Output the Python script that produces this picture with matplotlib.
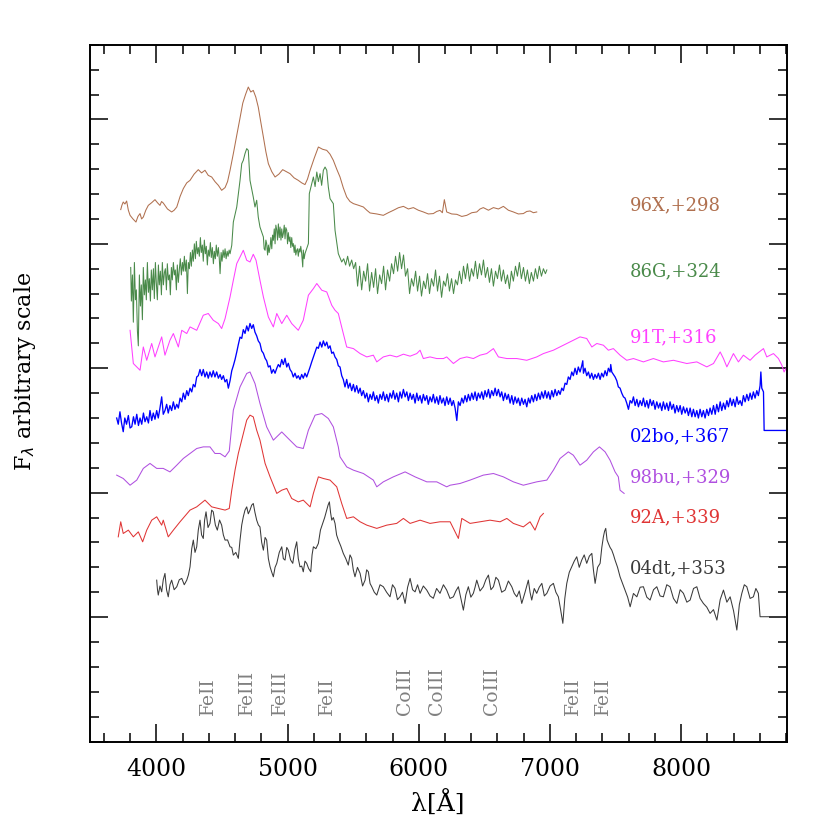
"""Late-time spectra of type Ia supernovae, stacked with arbitrary offsets."""

import matplotlib
matplotlib.use("Agg")
import matplotlib.pyplot as plt
from matplotlib.ticker import MultipleLocator, NullFormatter

# ---- 96X, +298 d -------------------------------------------------------------
wave_96x = [3729, 3738, 3748, 3761, 3774, 3787, 3800, 3822, 3845, 3860, 3876, 3888, 3901, 3920,
            3939, 3964, 3990, 4009, 4028, 4040, 4053, 4085, 4117, 4136, 4156, 4181, 4206, 4232,
            4257, 4288, 4320, 4345, 4371, 4396, 4422, 4447, 4473, 4498, 4524, 4543, 4562, 4588,
            4613, 4636, 4659, 4680, 4701, 4720, 4739, 4758, 4777, 4796, 4816, 4835, 4854, 4880,
            4905, 4934, 4963, 4991, 5019, 5050, 5082, 5108, 5133, 5152, 5172, 5204, 5235, 5267,
            5299, 5324, 5349, 5375, 5400, 5425, 5451, 5476, 5502, 5540, 5578, 5604, 5629, 5680,
            5730, 5768, 5806, 5845, 5883, 5921, 5959, 5997, 6035, 6073, 6111, 6137, 6162, 6180,
            6195, 6213, 6251, 6290, 6328, 6366, 6404, 6442, 6467, 6492, 6531, 6569, 6607, 6645,
            6683, 6721, 6759, 6797, 6823, 6848, 6874, 6899]
flux_96x = [4.275, 4.31, 4.336, 4.32, 4.344, 4.27, 4.229, 4.20, 4.175, 4.22, 4.243, 4.20, 4.215,
            4.27, 4.309, 4.33, 4.355, 4.33, 4.309, 4.34, 4.328, 4.28, 4.256, 4.27, 4.296, 4.38,
            4.444, 4.49, 4.510, 4.56, 4.596, 4.57, 4.591, 4.55, 4.537, 4.50, 4.470, 4.43, 4.452,
            4.50, 4.591, 4.73, 4.872, 5.00, 5.131, 5.20, 5.260, 5.22, 5.233, 5.18, 5.099, 4.98,
            4.858, 4.74, 4.644, 4.58, 4.537, 4.56, 4.596, 4.58, 4.564, 4.53, 4.510, 4.49, 4.476,
            4.52, 4.591, 4.69, 4.778, 4.76, 4.751, 4.72, 4.671, 4.60, 4.537, 4.45, 4.376, 4.34,
            4.323, 4.31, 4.296, 4.27, 4.248, 4.24, 4.229, 4.25, 4.269, 4.29, 4.301, 4.28, 4.291,
            4.27, 4.256, 4.24, 4.243, 4.26, 4.269, 4.25, 4.355, 4.256, 4.24, 4.237, 4.22, 4.229,
            4.25, 4.256, 4.28, 4.291, 4.27, 4.291, 4.28, 4.301, 4.27, 4.256, 4.24, 4.243, 4.26,
            4.264, 4.25, 4.256]

# ---- 86G, +324 d -------------------------------------------------------------
wave_86g = [3805, 3810, 3818, 3825, 3833, 3841, 3848, 3856, 3863, 3871, 3879, 3886, 3894, 3901,
            3909, 3917, 3924, 3932, 3940, 3947, 3955, 3962, 3970, 3978, 3985, 3993, 4000, 4008,
            4016, 4023, 4031, 4039, 4046, 4054, 4062, 4069, 4077, 4084, 4092, 4100, 4107, 4115,
            4122, 4130, 4138, 4145, 4153, 4160, 4168, 4176, 4183, 4191, 4199, 4206, 4214, 4221,
            4229, 4237, 4244, 4252, 4260, 4267, 4275, 4282, 4290, 4298, 4305, 4313, 4320, 4328,
            4336, 4343, 4351, 4358, 4366, 4374, 4381, 4389, 4396, 4404, 4412, 4419, 4427, 4435,
            4442, 4450, 4457, 4465, 4473, 4480, 4486, 4494, 4501, 4509, 4517, 4524, 4532, 4540,
            4547, 4555, 4562, 4570,
            4575, 4587, 4613, 4638, 4651, 4663, 4676, 4689, 4701, 4707, 4714, 4739, 4752, 4765,
            4777, 4790,
            4816, 4822, 4829, 4835, 4841, 4848, 4854, 4860, 4867, 4873, 4880, 4886, 4892, 4899,
            4905, 4911, 4918, 4924, 4930, 4937, 4943, 4950, 4956, 4962, 4968, 4975, 4981, 4987,
            4994, 5000, 5006, 5013, 5019, 5025, 5032, 5038, 5044, 5051, 5057, 5063, 5070, 5076,
            5082, 5089, 5095, 5101, 5108, 5116, 5120, 5127, 5133, 5159, 5166, 5197, 5210, 5223,
            5235, 5248, 5260, 5273, 5286, 5299, 5311, 5324, 5349, 5362, 5387, 5413,
            5428, 5443, 5458, 5473, 5489, 5504, 5519, 5534, 5549, 5565, 5580, 5595, 5610, 5625,
            5641, 5656, 5671, 5686, 5702, 5717, 5732, 5747, 5762, 5778, 5793, 5808, 5823, 5839,
            5854, 5869, 5884, 5899, 5915, 5930, 5945, 5960, 5976, 5991, 6006, 6021, 6037, 6052,
            6067, 6082, 6097, 6113, 6128, 6143, 6158, 6174, 6189, 6204, 6219, 6234, 6250, 6265,
            6280, 6295, 6310, 6326, 6341, 6356, 6371, 6387, 6402, 6417, 6432, 6447, 6463, 6478,
            6493, 6508, 6524, 6539, 6554, 6569, 6585, 6600, 6615, 6630, 6645, 6661, 6676, 6691,
            6706, 6721, 6737, 6752, 6767, 6782, 6798, 6813, 6828, 6843, 6858, 6874, 6889, 6904,
            6919, 6935, 6950, 6965, 6976]
flux_86g = [3.81, 3.54, 3.75, 3.37, 3.85, 3.55, 3.63, 3.30, 3.18, 3.75, 3.50, 3.67, 3.39, 3.81,
            3.59, 3.71, 3.55, 3.85, 3.61, 3.72, 3.54, 3.79, 3.63, 3.80, 3.56, 3.85, 3.69, 3.55,
            3.83, 3.67, 3.78, 3.59, 3.85, 3.67, 3.77, 3.80, 3.63, 3.84, 3.71, 3.75, 3.59, 3.81,
            3.71, 3.85, 3.75, 3.79, 3.63, 3.83, 3.69, 3.80, 3.88, 3.75, 3.85, 3.78, 3.90, 3.78,
            3.87, 3.60, 3.85, 3.80, 3.93, 3.82, 3.95, 3.86, 4.00, 3.88, 4.02, 3.92, 3.97, 3.90,
            4.05, 3.93, 3.99, 3.86, 4.03, 3.92, 3.98, 3.83, 3.95, 3.90, 4.01, 3.89, 3.97, 3.84,
            3.94, 3.88, 3.99, 3.90, 3.97, 3.88, 3.76, 3.93, 3.86, 3.95, 3.89, 3.96, 3.88, 3.94,
            3.90, 3.95, 3.92, 3.96,
            3.988, 4.175, 4.296, 4.510, 4.644, 4.671, 4.725, 4.765, 4.751, 4.644, 4.510, 4.376,
            4.296, 4.350, 4.215, 4.135,
            4.055, 3.96, 3.948, 4.03, 4.002, 3.91, 3.99, 3.93, 3.975, 4.05, 3.96, 4.07, 4.028,
            4.12, 4.00, 4.15, 4.109, 4.03, 4.16, 4.05, 4.135, 4.03, 4.12, 4.05, 4.082, 4.15, 4.04,
            4.13, 4.109, 4.00, 4.09, 4.02, 4.055, 3.97, 4.05, 3.98, 4.002, 3.93, 3.99, 3.91,
            3.948, 3.96, 3.90, 3.96, 3.934, 3.98, 3.92, 3.814, 3.95, 3.88, 3.921, 4.002, 4.403,
            4.537, 4.46, 4.577, 4.50, 4.564, 4.47, 4.591, 4.617, 4.591, 4.456, 4.363, 4.323,
            4.109, 3.921, 3.854,
            3.88, 3.83, 3.90, 3.82, 3.87, 3.80, 3.85, 3.66, 3.82, 3.63, 3.78, 3.70, 3.84, 3.62,
            3.77, 3.65, 3.80, 3.60, 3.75, 3.68, 3.82, 3.63, 3.79, 3.70, 3.84, 3.76, 3.90, 3.78,
            3.93, 3.80, 3.91, 3.74, 3.80, 3.60, 3.72, 3.66, 3.78, 3.62, 3.74, 3.58, 3.70, 3.64,
            3.76, 3.60, 3.72, 3.66, 3.79, 3.62, 3.74, 3.57, 3.70, 3.66, 3.76, 3.62, 3.72, 3.60,
            3.71, 3.67, 3.78, 3.68, 3.82, 3.72, 3.84, 3.70, 3.80, 3.74, 3.86, 3.72, 3.84, 3.75,
            3.87, 3.73, 3.81, 3.69, 3.80, 3.66, 3.78, 3.72, 3.83, 3.70, 3.79, 3.68, 3.75, 3.64,
            3.78, 3.70, 3.82, 3.74, 3.85, 3.72, 3.81, 3.70, 3.79, 3.68, 3.77, 3.70, 3.80, 3.72,
            3.82, 3.74, 3.80, 3.76, 3.79]

# ---- 91T, +316 d -------------------------------------------------------------
wave_91t = [3800, 3825, 3876, 3901, 3927, 3965, 3990, 4041, 4066, 4104, 4130, 4168, 4194, 4232,
            4257, 4308, 4358, 4396, 4434, 4473, 4498, 4524, 4562, 4587, 4613, 4638, 4663, 4689,
            4714, 4739, 4760, 4790, 4816, 4854, 4892, 4918, 4956, 4994, 5032, 5082, 5120, 5159,
            5197, 5223, 5261, 5299, 5337, 5362, 5387, 5425, 5451, 5502, 5553, 5604, 5654, 5680,
            5730, 5781, 5832, 5883, 5934, 5985, 6010, 6035, 6086, 6137, 6188, 6213, 6264, 6315,
            6366, 6416, 6467, 6518, 6569, 6607, 6671, 6747, 6823, 6899, 6950, 7026, 7102, 7178,
            7229, 7280, 7319, 7357, 7407, 7445, 7483, 7534, 7585, 7636, 7712, 7788, 7864, 7941,
            8043, 8119, 8195, 8246, 8297, 8322, 8348, 8398, 8436, 8474, 8525, 8563, 8627, 8652,
            8703, 8741, 8767, 8784, 8805]
flux_91t = [3.305, 3.038, 2.984, 3.171, 3.064, 3.199, 3.091, 3.252, 3.105, 3.225, 3.279, 3.171,
            3.305, 3.279, 3.332, 3.305, 3.426, 3.440, 3.386, 3.359, 3.319, 3.399, 3.573, 3.707,
            3.841, 3.894, 3.948, 3.868, 3.854, 3.916, 3.868, 3.707, 3.573, 3.412, 3.332, 3.440,
            3.359, 3.426, 3.359, 3.305, 3.386, 3.587, 3.640, 3.681, 3.627, 3.613, 3.506, 3.466,
            3.440, 3.279, 3.171, 3.158, 3.118, 3.091, 3.105, 3.051, 3.091, 3.105, 3.091, 3.113,
            3.097, 3.118, 3.145, 3.078, 3.091, 3.078, 3.078, 3.091, 3.038, 3.078, 3.091, 3.078,
            3.105, 3.118, 3.158, 3.091, 3.078, 3.078, 3.064, 3.091, 3.118, 3.145, 3.185, 3.225,
            3.252, 3.239, 3.171, 3.199, 3.185, 3.145, 3.158, 3.105, 3.064, 3.078, 3.051, 3.078,
            3.051, 3.064, 3.038, 3.051, 3.011, 3.038, 3.131, 3.078, 3.011, 3.118, 3.051, 3.105,
            3.064, 3.105, 3.158, 3.091, 3.118, 3.078, 3.024, 2.970, 3.011]

# ---- 02bo, +367 d ------------------------------------------------------------
wave_02bo = [3698, 3710, 3723, 3735, 3748, 3760, 3773, 3787, 3800, 3813, 3826, 3838, 3851, 3864,
             3876, 3889, 3902, 3914, 3927, 3940, 3952, 3965, 3977, 3990, 4003, 4015, 4028, 4041,
             4053, 4066, 4079, 4091, 4104, 4117, 4130, 4142, 4156, 4168, 4181, 4194, 4206, 4219,
             4232, 4244, 4257, 4270, 4282, 4295, 4308, 4320, 4333, 4346, 4358, 4371, 4384, 4396,
             4409, 4422, 4434, 4447, 4460, 4473, 4486, 4498, 4511, 4524, 4537, 4549, 4562, 4575,
             4587, 4600, 4613, 4625, 4638, 4651, 4663, 4676, 4689, 4701, 4714, 4727, 4739, 4752,
             4765, 4777, 4790, 4803, 4816, 4829, 4841, 4854, 4867, 4879, 4892, 4905, 4918, 4930,
             4943, 4956, 4968, 4981, 4994, 5006, 5019, 5032, 5044, 5057, 5070, 5082, 5095, 5108,
             5120, 5133, 5146, 5159, 5172, 5184, 5197, 5210, 5223, 5235, 5248, 5261, 5273, 5286,
             5299, 5311, 5324, 5337, 5349, 5362, 5375, 5387, 5400, 5413, 5425, 5438, 5451, 5463,
             5476, 5489, 5502, 5514, 5527, 5540, 5553, 5565, 5578, 5591, 5604, 5616, 5629, 5642,
             5654, 5667, 5680, 5692, 5705, 5718, 5730, 5743, 5756, 5769, 5781, 5794, 5806, 5819,
             5832, 5845, 5857, 5870, 5883, 5896, 5909, 5921, 5934, 5947, 5959, 5972, 5985, 5997,
             6010, 6023, 6035, 6048, 6061, 6073, 6086, 6099, 6111, 6124, 6137, 6150, 6162, 6175,
             6188, 6200, 6213, 6226, 6239, 6252, 6264, 6277, 6290, 6302, 6315, 6328, 6340, 6353,
             6366, 6378, 6391, 6404, 6416, 6429, 6442, 6454, 6467, 6480, 6492, 6505, 6518, 6531,
             6543, 6556, 6569, 6582, 6594, 6607, 6620, 6632, 6645, 6658, 6671, 6683, 6696, 6709,
             6721, 6734, 6747, 6759, 6772, 6785, 6798, 6810, 6823, 6836, 6848, 6861, 6874, 6886,
             6899, 6912, 6925, 6937, 6950, 6963, 6976, 6988, 7001, 7014, 7026, 7039, 7052, 7065,
             7077, 7090, 7102, 7115, 7128, 7140, 7153, 7166, 7178, 7191, 7204, 7216, 7229, 7242,
             7250, 7255, 7267, 7280, 7293, 7305, 7318, 7331, 7343, 7356, 7369, 7382, 7394, 7407,
             7420, 7433, 7445, 7458, 7463, 7471, 7483, 7496, 7509, 7521, 7534, 7547, 7560, 7572,
             7585, 7598, 7611, 7624, 7636, 7649, 7662, 7674, 7687, 7700, 7712, 7725, 7738, 7750,
             7763, 7776, 7788, 7801, 7814, 7827, 7839, 7852, 7864, 7877, 7890, 7903, 7915, 7928,
             7941, 7953, 7966, 7979, 7992, 8004, 8017, 8030, 8043, 8055, 8068, 8081, 8093, 8106,
             8119, 8131, 8144, 8157, 8169, 8182, 8195, 8208, 8220, 8233, 8246, 8259, 8271, 8284,
             8297, 8309, 8322, 8335, 8348, 8360, 8373, 8386, 8398, 8411, 8424, 8436, 8449, 8462,
             8474, 8487, 8500, 8513, 8525, 8538, 8550, 8563, 8576, 8588, 8601, 8607, 8614, 8627,
             8632, 8805]
flux_02bo = [2.60, 2.55, 2.65, 2.56, 2.49, 2.60, 2.55, 2.62, 2.52, 2.53, 2.61, 2.55, 2.63, 2.54,
             2.60, 2.55, 2.64, 2.57, 2.61, 2.56, 2.66, 2.58, 2.64, 2.59, 2.66, 2.60, 2.68, 2.77,
             2.63, 2.66, 2.71, 2.64, 2.70, 2.66, 2.73, 2.67, 2.71, 2.68, 2.76, 2.73, 2.80, 2.75,
             2.82, 2.78, 2.84, 2.81, 2.87, 2.85, 2.93, 2.94, 2.99, 2.94, 2.99, 2.93, 2.97, 2.92,
             2.97, 2.93, 2.98, 2.93, 2.97, 2.92, 2.95, 2.91, 2.94, 2.89, 2.91, 2.84, 2.90, 2.98,
             3.02, 3.07, 3.13, 3.19, 3.25, 3.24, 3.31, 3.28, 3.34, 3.30, 3.36, 3.32, 3.35, 3.29,
             3.26, 3.22, 3.20, 3.14, 3.12, 3.08, 3.06, 3.01, 3.02, 2.96, 2.99, 2.96, 3.00, 3.03,
             3.01, 3.07, 3.03, 3.08, 3.01, 3.04, 2.99, 2.97, 2.93, 2.96, 2.92, 2.94, 2.91, 2.95,
             2.92, 2.96, 2.93, 2.97, 3.01, 3.05, 3.09, 3.13, 3.17, 3.16, 3.21, 3.17, 3.22, 3.18,
             3.21, 3.16, 3.18, 3.12, 3.13, 3.09, 3.07, 3.02, 3.01, 2.94, 2.91, 2.85, 2.91, 2.84,
             2.88, 2.82, 2.87, 2.81, 2.86, 2.80, 2.84, 2.78, 2.82, 2.76, 2.80, 2.73, 2.79, 2.75,
             2.81, 2.74, 2.78, 2.72, 2.79, 2.75, 2.81, 2.74, 2.79, 2.73, 2.80, 2.76, 2.82, 2.75,
             2.80, 2.73, 2.81, 2.76, 2.83, 2.77, 2.81, 2.74, 2.80, 2.75, 2.79, 2.72, 2.80, 2.74,
             2.78, 2.72, 2.79, 2.74, 2.78, 2.71, 2.77, 2.73, 2.79, 2.72, 2.77, 2.71, 2.78, 2.72,
             2.76, 2.70, 2.77, 2.71, 2.76, 2.70, 2.74, 2.68, 2.58, 2.73, 2.70, 2.76, 2.72, 2.78,
             2.73, 2.79, 2.74, 2.80, 2.75, 2.81, 2.74, 2.80, 2.76, 2.81, 2.75, 2.82, 2.77, 2.83,
             2.76, 2.82, 2.78, 2.84, 2.78, 2.83, 2.77, 2.81, 2.74, 2.80, 2.75, 2.79, 2.72, 2.78,
             2.71, 2.77, 2.72, 2.76, 2.70, 2.76, 2.71, 2.75, 2.69, 2.76, 2.72, 2.78, 2.73, 2.79,
             2.74, 2.80, 2.75, 2.81, 2.76, 2.82, 2.76, 2.81, 2.75, 2.82, 2.77, 2.83, 2.78, 2.82,
             2.79, 2.84, 2.82, 2.88, 2.87, 2.93, 2.91, 2.97, 2.94, 3.00, 2.95, 3.01, 2.97, 3.02,
             3.06, 2.96, 3.00, 2.94, 2.97, 2.92, 2.96, 2.91, 2.95, 2.92, 2.96, 2.91, 2.96, 2.93,
             2.98, 2.94, 3.00, 2.97, 3.03, 2.97, 2.95, 2.93, 2.90, 2.85, 2.84, 2.80, 2.77, 2.76,
             2.72, 2.67, 2.74, 2.72, 2.77, 2.70, 2.75, 2.69, 2.74, 2.70, 2.76, 2.69, 2.74, 2.68,
             2.75, 2.70, 2.74, 2.67, 2.73, 2.68, 2.72, 2.66, 2.73, 2.67, 2.72, 2.66, 2.73, 2.67,
             2.71, 2.64, 2.70, 2.65, 2.70, 2.63, 2.69, 2.64, 2.68, 2.62, 2.68, 2.61, 2.67, 2.61,
             2.66, 2.60, 2.67, 2.61, 2.66, 2.60, 2.67, 2.62, 2.68, 2.63, 2.70, 2.63, 2.71, 2.65,
             2.73, 2.66, 2.72, 2.67, 2.74, 2.69, 2.76, 2.70, 2.75, 2.69, 2.77, 2.71, 2.74, 2.70,
             2.78, 2.73, 2.79, 2.74, 2.80, 2.75, 2.81, 2.76, 2.82, 2.78, 2.86, 2.97, 2.84, 2.81,
             2.50, 2.50]

# ---- 98bu, +329 d ------------------------------------------------------------
wave_98bu = [3698, 3748, 3800, 3851, 3901, 3952, 4003, 4053, 4104, 4156, 4206, 4257, 4308, 4358,
             4409, 4447, 4486, 4524, 4556, 4587, 4638, 4689, 4714, 4752, 4790, 4841, 4892, 4956,
             5006, 5070, 5120, 5159, 5210, 5261, 5311, 5349, 5387, 5400, 5451, 5502, 5578, 5654,
             5680, 5730, 5806, 5896, 5972, 6061, 6137, 6213, 6239, 6315, 6391, 6492, 6569, 6645,
             6721, 6797, 6899, 6976, 7026, 7077, 7140, 7178, 7229, 7280, 7331, 7377, 7420, 7458,
             7496, 7521, 7534, 7565]
flux_98bu = [2.141, 2.114, 2.060, 2.101, 2.195, 2.235, 2.195, 2.195, 2.167, 2.221, 2.275, 2.315,
             2.355, 2.368, 2.368, 2.315, 2.315, 2.288, 2.335, 2.663, 2.850, 2.958, 2.970, 2.877,
             2.717, 2.529, 2.422, 2.488, 2.435, 2.368, 2.355, 2.502, 2.623, 2.636, 2.596, 2.529,
             2.368, 2.288, 2.207, 2.181, 2.154, 2.101, 2.047, 2.087, 2.127, 2.167, 2.127, 2.087,
             2.087, 2.047, 2.060, 2.074, 2.101, 2.141, 2.154, 2.127, 2.087, 2.060, 2.087, 2.101,
             2.181, 2.275, 2.328, 2.301, 2.221, 2.261, 2.328, 2.368, 2.328, 2.261, 2.167, 2.127,
             2.020, 1.994]

# ---- 92A, +339 d -------------------------------------------------------------
wave_92a = [3710, 3729, 3748, 3787, 3825, 3863, 3896, 3927, 3965, 4003, 4041, 4053, 4091, 4130,
            4181, 4257, 4308, 4371, 4422, 4473, 4524, 4556, 4575, 4600, 4625, 4689, 4714, 4739,
            4765, 4790, 4829, 4867, 4918, 4956, 4994, 5032, 5082, 5120, 5172, 5197, 5235, 5273,
            5324, 5375, 5413, 5451, 5502, 5553, 5604, 5680, 5756, 5832, 5883, 5934, 6010, 6086,
            6162, 6239, 6302, 6328, 6391, 6467, 6543, 6620, 6671, 6721, 6797, 6848, 6886, 6925,
            6950]
flux_92a = [1.645, 1.766, 1.672, 1.699, 1.645, 1.685, 1.605, 1.699, 1.779, 1.806, 1.739, 1.779,
            1.645, 1.699, 1.766, 1.860, 1.886, 1.940, 1.886, 1.873, 1.860, 1.873, 2.020, 2.181,
            2.315, 2.583, 2.623, 2.609, 2.502, 2.422, 2.235, 2.127, 1.994, 2.020, 2.034, 1.953,
            1.926, 1.940, 1.886, 1.994, 2.127, 2.114, 2.101, 2.047, 1.913, 1.793, 1.806, 1.766,
            1.739, 1.713, 1.739, 1.753, 1.793, 1.753, 1.779, 1.753, 1.766, 1.766, 1.632, 1.793,
            1.753, 1.766, 1.779, 1.766, 1.793, 1.753, 1.725, 1.766, 1.699, 1.806, 1.833]

# ---- 04dt, +353 d ------------------------------------------------------------
wave_04dt = [4003, 4009, 4015, 4028, 4041, 4053, 4066, 4078, 4091, 4104, 4117, 4136, 4156, 4175,
             4194, 4213, 4232, 4245, 4257, 4270, 4282, 4295, 4308, 4320, 4333, 4345, 4358, 4368,
             4379, 4394, 4409, 4422, 4434, 4450, 4465, 4482, 4498, 4511, 4524, 4543, 4562, 4575,
             4587, 4606, 4625, 4632, 4638, 4651, 4663, 4676, 4689, 4701, 4714, 4727, 4739, 4752,
             4765, 4778, 4790, 4803, 4816, 4829, 4841, 4854, 4867, 4880, 4892, 4905, 4918, 4937,
             4956, 4968, 4981, 4994, 5006, 5023, 5040, 5055, 5070, 5082, 5095, 5108, 5120, 5133,
             5146, 5161, 5177, 5187, 5197, 5216, 5235, 5251, 5268, 5283, 5299, 5309, 5319, 5328,
             5337, 5349, 5362, 5374, 5387, 5406, 5425, 5444, 5463, 5476, 5489, 5501, 5514, 5533,
             5553, 5572, 5591, 5603, 5616, 5629, 5642, 5661, 5680, 5705, 5730, 5755, 5781, 5800,
             5819, 5838, 5857, 5876, 5896, 5915, 5934, 5953, 5972, 5991, 6010, 6035, 6061, 6086,
             6111, 6136, 6162, 6188, 6213, 6238, 6264, 6283, 6302, 6321, 6340, 6359, 6378, 6397,
             6416, 6429, 6442, 6467, 6492, 6511, 6531, 6550, 6569, 6588, 6607, 6632, 6658, 6683,
             6709, 6728, 6747, 6766, 6785, 6810, 6835, 6848, 6861, 6880, 6899, 6918, 6938, 6957,
             6976, 7001, 7026, 7045, 7064, 7081, 7098, 7113, 7128, 7147, 7166, 7185, 7204, 7223,
             7242, 7261, 7280, 7300, 7319, 7331, 7344, 7363, 7382, 7395, 7407, 7416, 7425, 7435,
             7445, 7458, 7471, 7484, 7496, 7515, 7534, 7553, 7572, 7592, 7611, 7636, 7662, 7687,
             7712, 7738, 7763, 7789, 7814, 7839, 7864, 7890, 7915, 7941, 7967, 7992, 8017, 8043,
             8068, 8094, 8119, 8144, 8169, 8195, 8220, 8246, 8272, 8297, 8322, 8348, 8373, 8399,
             8424, 8443, 8462, 8481, 8500, 8525, 8550, 8569, 8588, 8601, 8678]
flux_04dt = [1.297, 1.22, 1.177, 1.25, 1.203, 1.30, 1.351, 1.22, 1.163, 1.26, 1.297, 1.22,
             1.244, 1.30, 1.311, 1.26, 1.297, 1.34, 1.404, 1.55, 1.619, 1.52, 1.565, 1.70,
             1.779, 1.66, 1.632, 1.78, 1.846, 1.72, 1.753, 1.86, 1.846, 1.74, 1.699, 1.78,
             1.739, 1.66, 1.619, 1.62, 1.565, 1.56, 1.498, 1.52, 1.472, 1.55, 1.619, 1.74,
             1.806, 1.86, 1.886, 1.83, 1.860, 1.90, 1.913, 1.84, 1.779, 1.74, 1.725, 1.60,
             1.538, 1.64, 1.619, 1.47, 1.404, 1.36, 1.324, 1.40, 1.432, 1.52, 1.565, 1.47,
             1.458, 1.56, 1.538, 1.46, 1.432, 1.54, 1.605, 1.47, 1.404, 1.41, 1.364, 1.45,
             1.432, 1.39, 1.364, 1.50, 1.565, 1.55, 1.592, 1.70, 1.753, 1.80, 1.860, 1.90,
             1.926, 1.84, 1.779, 1.80, 1.753, 1.66, 1.619, 1.57, 1.512, 1.47, 1.418, 1.50,
             1.472, 1.38, 1.324, 1.40, 1.351, 1.25, 1.297, 1.38, 1.364, 1.27, 1.244, 1.20,
             1.177, 1.26, 1.244, 1.20, 1.163, 1.26, 1.231, 1.14, 1.163, 1.20, 1.110, 1.24,
             1.311, 1.22, 1.203, 1.26, 1.191, 1.25, 1.217, 1.17, 1.151, 1.23, 1.191, 1.26,
             1.217, 1.15, 1.163, 1.21, 1.244, 1.15, 1.056, 1.18, 1.244, 1.16, 1.191, 1.24,
             1.297, 1.21, 1.244, 1.30, 1.338, 1.22, 1.244, 1.32, 1.297, 1.20, 1.217, 1.29,
             1.244, 1.19, 1.163, 1.21, 1.110, 1.20, 1.297, 1.20, 1.137, 1.23, 1.191, 1.24,
             1.271, 1.17, 1.191, 1.25, 1.271, 1.20, 1.163, 1.06, 0.950, 1.15, 1.271, 1.36,
             1.404, 1.45, 1.485, 1.40, 1.458, 1.50, 1.432, 1.49, 1.512, 1.38, 1.271, 1.40,
             1.432, 1.56, 1.645, 1.69, 1.713, 1.62, 1.592, 1.56, 1.538, 1.50, 1.458, 1.40,
             1.324, 1.27, 1.217, 1.16, 1.083, 1.19, 1.163, 1.24, 1.244, 1.16, 1.137, 1.22,
             1.244, 1.17, 1.163, 1.26, 1.244, 1.15, 1.110, 1.22, 1.191, 1.12, 1.137, 1.23,
             1.244, 1.15, 1.110, 1.08, 1.030, 1.06, 0.976, 1.14, 1.217, 1.12, 1.163, 1.05,
             0.896, 1.10, 1.191, 1.26, 1.244, 1.15, 1.163, 1.23, 1.191, 1.003, 1.003]

# labels (name, phase) and where they sit
sn_names = ["96X,+298", "86G,+324", "91T,+316", "02bo,+367", "98bu,+329", "92A,+339", "04dt,+353"]
label_y = [4.31, 3.78, 3.25, 2.45, 2.12, 1.80, 1.39]
sn_colors = ["#b0704f", "#4a8a4a", "#ff40ff", "#0000ff", "#b050e0", "#e03535", "#3a3a3a"]
line_w = [0.75, 0.75, 0.75, 0.95, 0.75, 0.75, 0.75]

# line identifications
line_ids = ["FeII", "FeIII", "FeIII", "FeII", "CoIII", "CoIII", "CoIII", "FeII", "FeII"]
line_waves = [4396, 4689, 4943, 5299, 5896, 6142, 6556, 7174, 7407]

SERIF = "DejaVu Serif"

fig = plt.figure(figsize=(8.3, 8.3), dpi=100)
ax = fig.add_axes([0.108, 0.1066, 0.840, 0.8395])

spectra = [
    (wave_96x, flux_96x),
    (wave_86g, flux_86g),
    (wave_91t, flux_91t),
    (wave_02bo, flux_02bo),
    (wave_98bu, flux_98bu),
    (wave_92a, flux_92a),
    (wave_04dt, flux_04dt),
]
for (w, f), col, lw in zip(spectra, sn_colors, line_w):
    ax.plot(w, f, color=col, lw=lw)

for name, yl, col in zip(sn_names, label_y, sn_colors):
    ax.text(7610, yl, name, color=col, fontsize=13, family=SERIF, ha="left", va="center")

for lab, wl in zip(line_ids, line_waves):
    ax.text(wl, 0.21, lab, rotation=90, color="#808080", fontsize=13.5, family=SERIF,
            ha="center", va="bottom")

ax.set_xlim(3492, 8805)
ax.set_ylim(0, 5.6)
ax.xaxis.set_major_locator(MultipleLocator(1000))
ax.xaxis.set_minor_locator(MultipleLocator(200))
ax.yaxis.set_major_locator(MultipleLocator(1))
ax.yaxis.set_minor_locator(MultipleLocator(0.2))
ax.yaxis.set_major_formatter(NullFormatter())
ax.tick_params(which="both", direction="in", top=True, right=True, width=1.1)
ax.tick_params(which="major", length=13)
ax.tick_params(which="minor", length=6.5)
ax.tick_params(axis="x", which="major", pad=12, labelsize=17)
for lbl in ax.get_xticklabels():
    lbl.set_family(SERIF)
for sp in ax.spines.values():
    sp.set_linewidth(1.4)

fig.text(0.528, 0.032, "λ[Å]", fontsize=18, family=SERIF, ha="center", va="center")
fig.text(0.03, 0.552, r"F$_\lambda$ arbitrary scale", fontsize=16, family=SERIF,
         rotation=90, ha="center", va="center")

fig.savefig("out.png", dpi=100)
